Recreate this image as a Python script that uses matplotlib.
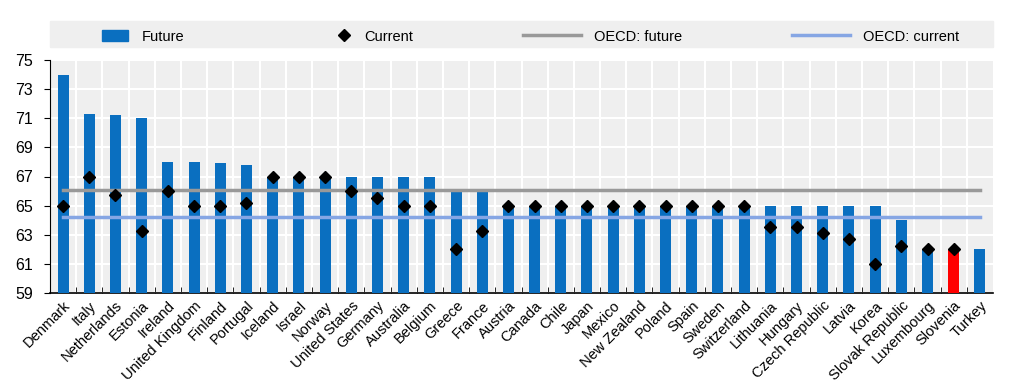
import matplotlib.pyplot as plt
import matplotlib.patches as mpatches
import matplotlib.lines as mlines
import numpy as np

plt.rcParams['font.family'] = ['Liberation Sans', 'DejaVu Sans']

countries = ["Denmark", "Italy", "Netherlands", "Estonia", "Ireland", "United Kingdom",
             "Finland", "Portugal", "Iceland", "Israel", "Norway", "United States",
             "Germany", "Australia", "Belgium", "Greece", "France", "Austria", "Canada",
             "Chile", "Japan", "Mexico", "New Zealand", "Poland", "Spain", "Sweden",
             "Switzerland", "Lithuania", "Hungary", "Czech Republic", "Latvia", "Korea",
             "Slovak Republic", "Luxembourg", "Slovenia", "Turkey"]
future = [74, 71.3, 71.25, 71, 68, 68, 67.9, 67.8, 67, 67, 67, 67, 67, 67, 67, 66, 66,
          65, 65, 65, 65, 65, 65, 65, 65, 65, 65, 65, 65, 65, 65, 65, 64, 62, 62, 62]
current = [65, 67, 65.75, 63.25, 66, 65, 65, 65.2, 67, 67, 67, 66, 65.5, 65, 65, 62, 63.25,
           65, 65, 65, 65, 65, 65, 65, 65, 65, 65, 63.55, 63.5, 63.1, 62.7, 61, 62.2, 62, 62, np.nan]
oecd_future = 66.1
oecd_current = 64.2
highlight = "Slovenia"
legend_labels = ["Future", "Current", "OECD: future", "OECD: current"]

blue = "#0a6fc0"
grey_line = "#999999"
lblue_line = "#86a6e4"
x = np.arange(len(countries))
colors = ["#ff0000" if c == highlight else blue for c in countries]

W, H = 1024, 391
fig = plt.figure(figsize=(W / 100, H / 100), dpi=100)
ax = fig.add_axes([50 / W, 1 - 293 / H, 943 / W, 233 / H])
ax.set_facecolor("#efefef")

ax.bar(x, future, width=0.42, color=colors, zorder=3)
ax.plot(x, current, linestyle="none", marker="D", markersize=6, color="black", zorder=5)
ax.plot([x[0], x[-1]], [oecd_future] * 2, color=grey_line, lw=2.5, zorder=4)
ax.plot([x[0], x[-1]], [oecd_current] * 2, color=lblue_line, lw=2.5, zorder=4)

ax.set_ylim(59, 75)
ax.set_xlim(-0.5, len(countries) - 0.5)
ax.set_yticks(np.arange(59, 76, 2))
ax.set_xticks(x)
ax.set_xticklabels(countries, rotation=45, ha="right", rotation_mode="anchor", fontsize=10.5)
ax.set_xticks(x[:-1] + 0.5, minor=True)
ax.tick_params(axis="x", which="major", length=0, pad=4)
ax.tick_params(axis="x", which="minor", direction="in", length=4, color="black")
ax.tick_params(axis="y", length=4, labelsize=11.5, pad=8)
ax.grid(axis="y", color="white", lw=1.5, zorder=1)
ax.grid(axis="x", which="minor", color="white", lw=1.5, zorder=1)
for s in ["top", "right"]:
    ax.spines[s].set_visible(False)
ax.spines["bottom"].set_linewidth(1.2)

# legend band
fx = lambda px: px / W
fy = lambda py: 1 - py / H
fig.patches.append(mpatches.Rectangle((fx(50), fy(47)), fx(943), 26 / H,
                                      transform=fig.transFigure, color="#efefef", zorder=0))
ly = fy(35)
fig.patches.append(mpatches.Rectangle((fx(102), fy(41)), fx(26), 11 / H,
                                      transform=fig.transFigure, color=blue))
fig.lines.append(mlines.Line2D([fx(344)], [ly], marker="D", markersize=6, color="black",
                               transform=fig.transFigure))
fig.lines.append(mlines.Line2D([fx(523), fx(581)], [ly, ly], color=grey_line, lw=2.5,
                               transform=fig.transFigure))
fig.lines.append(mlines.Line2D([fx(792), fx(850)], [ly, ly], color=lblue_line, lw=2.5,
                               transform=fig.transFigure))
for px, lab in zip([142, 364, 594, 863], legend_labels):
    fig.text(fx(px), fy(37), lab, fontsize=10.5, ha="left", va="center")

fig.savefig("out.png", dpi=100)
